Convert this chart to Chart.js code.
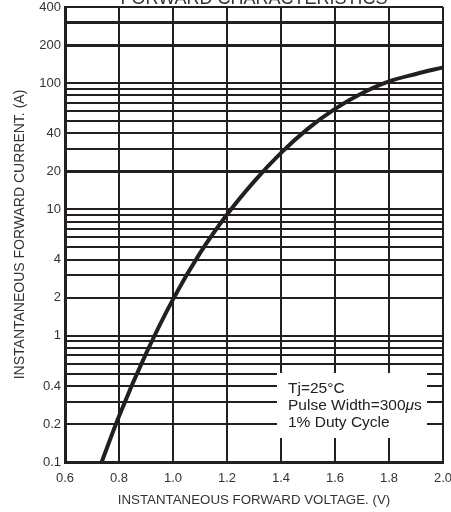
<!DOCTYPE html>
<html>
<head>
<meta charset="utf-8">
<script src="https://cdn.jsdelivr.net/npm/chart.js@4"></script>
<style>
  html, body { margin: 0; padding: 0; background: #fff; }
</style>
</head>
<body>
<canvas id="fwdChart" width="451" height="512"></canvas>
<script>
const voltage = [0.736, 0.8, 0.9, 1.0, 1.1, 1.2, 1.3, 1.4, 1.5, 1.6, 1.7, 1.8, 1.9, 2.0];
const current = [0.1, 0.23, 0.72, 1.94, 4.5, 9.1, 16.6, 28, 43.6, 62.5, 83, 103, 118, 133];

// grid lines and tick labels
const yGrid = [0.1, 0.2, 0.3, 0.4, 0.5, 0.6, 0.7, 0.8, 0.9,
               1, 2, 3, 4, 5, 6, 7, 8, 9,
               10, 20, 30, 40, 50, 60, 70, 80, 90,
               100, 200, 300, 400];
const yLabels = [0.1, 0.2, 0.4, 1, 2, 4, 10, 20, 40, 100, 200, 400];
const heavyLines = [20, 200, 300];

const chartTitle = 'FORWARD CHARACTERISTICS';
const noteLines = ['Tj=25°C', 'Pulse Width=300μs', '1% Duty Cycle'];

const ink = '#231f20';
const textColor = '#333';
const fontFamily = '"Liberation Sans", Arial, Helvetica, sans-serif';

const overlay = {
  id: 'overlay',
  afterDraw(chart) {
    const ctx = chart.ctx;
    const area = chart.chartArea;
    ctx.save();

    // title sits mostly above the picture
    ctx.fillStyle = textColor;
    ctx.font = '18px ' + fontFamily;
    ctx.textAlign = 'center';
    ctx.textBaseline = 'alphabetic';
    ctx.fillText(chartTitle, (area.left + area.right) / 2, 3.5);

    // condition box
    const bx = area.right - 166, by = area.bottom - 89;
    ctx.fillStyle = '#fff';
    ctx.fillRect(bx, by, 150, 65);

    ctx.fillStyle = '#222';
    ctx.textAlign = 'left';
    const size = 15.5;
    noteLines.forEach((line, i) => {
      const ty = by + 20 + i * 17;
      let tx = bx + 11;
      const parts = line.split('μ');
      parts.forEach((p, j) => {
        ctx.font = size + 'px ' + fontFamily;
        ctx.fillText(p, tx, ty);
        tx += ctx.measureText(p).width;
        if (j < parts.length - 1) {
          ctx.font = 'italic ' + size + 'px ' + fontFamily;
          ctx.fillText('μ', tx, ty);
          tx += ctx.measureText('μ').width;
        }
      });
    });
    ctx.restore();
  }
};

new Chart(document.getElementById('fwdChart'), {
  type: 'line',
  data: {
    datasets: [{
      data: voltage.map((v, i) => ({x: v, y: current[i]})),
      borderColor: ink,
      borderWidth: 4,
      pointRadius: 0,
      cubicInterpolationMode: 'monotone',
      fill: false
    }]
  },
  options: {
    responsive: false,
    animation: false,
    layout: { padding: { top: 7, right: 8, left: 0, bottom: 0 } },
    plugins: {
      legend: { display: false },
      tooltip: { enabled: false }
    },
    scales: {
      x: {
        type: 'linear',
        min: 0.6,
        max: 2.0,
        afterFit: s => { s.height = 50; s.paddingLeft = 0; s.paddingRight = 0; },
        ticks: {
          stepSize: 0.2,
          padding: 9,
          color: textColor,
          font: { family: fontFamily, size: 13 },
          callback: v => v.toFixed(1)
        },
        grid: { color: ink, lineWidth: 2, drawTicks: false },
        border: { color: ink, width: 3 },
        title: {
          display: true,
          text: 'INSTANTANEOUS FORWARD VOLTAGE. (V)',
          color: textColor,
          font: { family: fontFamily, size: 13.3 },
          padding: { top: 4, bottom: 4 }
        }
      },
      y: {
        type: 'logarithmic',
        min: 0.1,
        max: 400,
        afterFit: s => { s.width = 65; s.paddingTop = 0; s.paddingBottom = 0; },
        afterBuildTicks: s => { s.ticks = yGrid.map(v => ({value: v})); },
        ticks: {
          autoSkip: false,
          padding: 4,
          color: textColor,
          font: { family: fontFamily, size: 13 },
          callback: v => yLabels.includes(v) ? String(v) : ''
        },
        grid: {
          color: ink,
          drawTicks: false,
          lineWidth: c => heavyLines.includes(c.tick && c.tick.value) ? 3 : 2
        },
        border: { color: ink, width: 3 },
        title: {
          display: true,
          text: 'INSTANTANEOUS FORWARD CURRENT. (A)',
          color: textColor,
          font: { family: fontFamily, size: 14 },
          padding: { top: 12, bottom: 12 }
        }
      }
    }
  },
  plugins: [overlay]
});
</script>
</body>
</html>
